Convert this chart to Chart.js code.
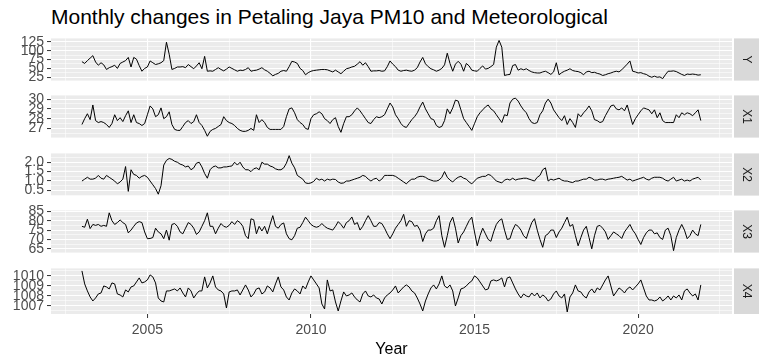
<!DOCTYPE html>
<html>
<head>
<meta charset="utf-8">
<script src="https://cdn.jsdelivr.net/npm/chart.js@4.4.1/dist/chart.umd.min.js"></script>
<style>
  body { margin: 0; background: #fff; width: 765px; height: 361px; overflow: hidden; position: relative;
         font-family: "Liberation Sans", Arial, sans-serif; }
  .panel { position: absolute; left: 0; width: 765px; }
  #title { position: absolute; left: 51px; top: 6px; font-size: 21px; line-height: 21px; color: #000; white-space: nowrap; }
</style>
</head>
<body>
<div id="title">Monthly changes in Petaling Jaya PM10 and Meteorological</div>
<div class="panel" style="top:27px;height:65px"><canvas id="cY"></canvas></div>
<div class="panel" style="top:84px;height:65px"><canvas id="cX1"></canvas></div>
<div class="panel" style="top:142px;height:65px"><canvas id="cX2"></canvas></div>
<div class="panel" style="top:199px;height:65px"><canvas id="cX3"></canvas></div>
<div class="panel" style="top:257px;height:104px"><canvas id="cX4"></canvas></div>
<script>
// monthly series, Jan 2003 .. Dec 2021 (12 values per row = one year)
const startYear = 2003;

const Y = [
  69,64,72,79,86,68,59,66,60,47,52,55,
  59,50,64,68,72,81,54,81,76,58,42,50,
  54,71,66,61,63,66,72,124,90,47,50,54,
  54,55,52,61,55,49,57,66,49,84,42,43,
  42,47,52,47,43,48,54,50,46,42,45,44,
  47,52,42,44,45,48,52,46,42,36,29,33,
  36,42,44,42,55,70,68,64,50,44,32,38,
  42,44,45,46,47,47,46,43,40,45,40,35,
  42,49,51,54,56,62,69,59,66,55,42,43,
  43,44,42,43,55,71,62,55,45,42,44,45,
  43,42,45,52,68,81,63,55,49,46,42,45,
  50,60,93,64,42,62,70,62,42,64,57,45,
  43,42,50,57,48,50,55,61,110,129,110,30,
  32,33,58,61,45,49,46,49,44,40,38,37,
  37,40,42,38,33,40,66,32,38,42,45,49,
  44,42,41,38,32,40,42,38,39,36,34,30,
  32,35,37,40,42,40,46,54,62,71,42,40,
  37,38,35,33,28,25,28,25,26,21,32,42,
  42,43,41,37,33,30,34,33,34,33,31,32
];

const X1 = [
  27.4,28.0,28.5,27.9,29.4,27.8,27.6,27.7,27.6,27.4,27.1,27.5,
  28.4,27.8,28.1,27.7,28.3,28.8,27.6,28.4,27.6,27.5,27.3,27.5,
  28.4,29.3,29.0,28.2,28.4,29.1,28.0,28.2,28.7,27.4,26.9,26.8,
  26.8,27.2,27.6,27.8,27.5,27.7,28.4,27.6,27.3,26.8,26.2,26.7,
  26.9,27.0,27.2,27.4,28.2,27.8,27.6,27.5,27.3,27.0,26.8,26.7,
  26.7,26.8,27.0,26.8,28.4,27.6,27.9,27.6,27.1,26.9,26.9,26.9,
  26.9,26.9,27.2,28.2,29.0,29.1,28.6,27.9,27.6,27.4,27.0,26.9,
  28.0,28.4,28.5,28.7,28.5,28.0,27.8,27.5,27.9,28.1,27.2,26.6,
  27.5,28.2,28.2,28.4,28.8,29.1,28.8,28.4,28.0,27.6,27.5,27.9,
  28.2,28.1,28.2,28.4,29.0,29.6,29.2,28.4,28.0,27.5,27.2,27.1,
  27.5,27.9,28.2,28.6,29.2,29.7,29.0,28.5,28.0,27.9,27.3,27.1,
  27.2,27.8,29.0,28.5,29.1,29.9,29.8,28.9,28.0,27.6,27.2,26.8,
  27.5,28.2,28.6,28.9,29.2,29.4,29.0,28.8,28.4,28.0,27.6,28.4,
  28.3,29.6,30.0,30.1,29.8,29.3,28.9,28.6,28.0,27.6,27.5,27.6,
  28.4,28.8,29.6,30.0,29.6,28.9,28.5,28.1,27.8,28.3,27.4,28.0,
  27.6,27.1,28.5,28.2,28.6,28.9,29.3,28.8,27.9,27.8,27.6,27.7,
  28.3,28.8,29.3,29.4,29.0,28.9,29.1,28.8,29.4,28.4,27.4,28.0,
  28.4,28.8,29.1,29.0,28.9,28.5,28.9,28.1,28.6,27.8,27.6,27.6,
  27.6,27.6,28.4,28.1,28.6,28.4,28.6,28.5,28.3,28.6,28.9,27.8
];

const X2 = [
  1.0,1.1,1.2,1.1,1.1,1.15,1.3,1.15,1.1,1.3,1.2,1.1,
  1.0,0.85,0.95,1.1,1.77,0.45,1.6,1.35,1.3,1.15,1.25,1.3,
  1.2,1.0,0.8,0.6,0.3,0.75,1.85,2.1,2.2,2.15,2.05,2.0,
  1.9,1.85,1.75,1.8,1.6,1.7,1.95,2.0,1.75,1.4,1.15,1.6,
  1.75,1.8,1.7,1.7,1.75,1.75,1.78,1.8,2.0,1.85,2.0,1.75,
  1.6,1.6,1.5,1.65,1.7,1.6,2.0,1.9,1.9,1.8,1.75,1.65,
  1.6,1.6,1.7,1.95,2.35,1.95,1.7,1.3,1.2,1.1,0.9,0.87,
  0.9,0.98,1.15,1.05,1.1,1.0,1.1,1.05,1.1,1.08,0.95,0.88,
  0.9,1.0,1.0,1.05,1.1,1.15,1.2,1.3,1.25,1.1,1.0,1.1,
  1.15,1.0,1.1,1.3,1.3,1.3,1.3,1.25,1.15,1.05,0.95,0.85,
  1.0,1.1,1.1,1.2,1.25,1.25,1.2,1.1,1.05,1.0,1.0,1.05,
  1.2,1.5,1.2,1.05,0.95,1.1,1.2,1.25,1.15,1.1,0.95,0.85,
  1.0,1.15,1.2,1.25,1.25,1.35,1.3,1.15,1.0,0.95,0.9,1.05,
  1.1,1.05,1.15,1.05,1.1,1.12,1.15,1.15,1.1,1.05,1.0,1.2,
  1.3,1.6,1.7,1.0,1.1,1.05,1.1,1.15,1.05,1.0,1.0,0.95,
  0.92,1.0,1.0,1.05,1.1,1.1,1.2,1.15,1.05,1.05,1.1,1.1,
  1.05,1.1,1.12,1.15,1.18,1.2,1.25,1.15,1.05,1.1,1.0,1.05,
  1.1,1.15,1.2,1.1,1.05,1.15,1.2,1.2,1.2,1.15,1.05,1.0,
  1.1,1.2,1.0,1.05,1.1,1.0,1.05,1.0,1.1,1.15,1.2,1.05
];

const X3 = [
  77,76.5,80.8,75.8,78,77.5,78,77,77.5,77,84.2,80,
  78,79,80.4,79,78,73.5,75,77,78.8,79.5,79,74,
  70.4,70.5,71,76,74,73,70.4,75,69.6,78,78.5,77,
  74,73,76,79,78,76,72.7,74,77,80,84.2,77,
  77,73,76,78.5,77,76.5,77.5,79.5,78,80,79,77,
  72,70.4,81,80.5,73,77,74.5,77,73,78,82.7,77,
  76,78,78.8,73,70.4,69.8,72,76,76.5,79,81.9,80,
  78,77,76.5,77,78.5,77,76,75.5,75,77,79.5,78,
  76,79,80,82,78,79,75,77,80,82.7,80,77,
  77,79,78.5,76,73,70.4,73,76,78,80,83.4,77,
  80,79.5,77,77.5,75,68.9,73,75,75,76,80,82.7,
  72,65.8,72,79,81.9,76,68.1,72,74,77,80,81.9,
  74,66.6,72,76,73,70,69,74,78,80,81,75,
  70,70.4,75,78,77,75,72,70.5,75,79,81.1,75,
  70,65.8,72,73,75,75,71,74,76,79,81.9,77,
  78,72,66.6,71,75,77,71,65,72,77,77.5,76,
  74,70,72,74,73,72,70.5,74,76,78,75,73,
  70,67.3,71,73.5,75,75,73,73.5,71,70,75,76,
  72,64,71,75,78,75,70.4,72,75,73,72,78
];

const X4 = [
  1010.5,1009.2,1008.5,1007.9,1007.5,1007.8,1008.2,1008.3,1009.0,1008.9,1008.7,1009.3,
  1009.2,1008.2,1008.1,1007.9,1008.6,1008.4,1008.9,1009.0,1009.4,1009.8,1009.3,1009.4,
  1009.6,1010.1,1009.9,1009.3,1007.8,1007.5,1007.4,1008.5,1008.5,1008.6,1008.7,1008.5,
  1008.8,1008.3,1007.9,1008.8,1008.5,1007.8,1008.2,1008.5,1008.5,1009.9,1008.8,1009.3,
  1010.0,1008.9,1008.6,1008.5,1008.2,1006.8,1008.4,1008.5,1008.5,1008.6,1008.1,1008.6,
  1009.1,1008.6,1007.9,1008.2,1008.7,1008.8,1008.2,1008.4,1009.0,1008.8,1008.4,1009.2,
  1009.9,1008.9,1008.6,1007.9,1007.6,1008.3,1008.7,1008.5,1008.2,1009.0,1008.7,1009.4,
  1010.0,1009.6,1009.2,1008.8,1007.2,1006.7,1009.6,1008.5,1008.6,1007.4,1006.5,1007.5,
  1008.4,1008.0,1008.1,1008.3,1007.9,1007.6,1007.4,1008.2,1008.5,1008.0,1007.9,1008.1,
  1007.8,1007.7,1007.2,1007.8,1008.1,1008.3,1008.6,1009.0,1008.3,1008.6,1008.9,1009.1,
  1008.9,1008.5,1008.3,1007.8,1007.2,1006.5,1007.5,1008.2,1008.8,1009.1,1008.7,1009.2,
  1010.0,1009.0,1008.8,1009.1,1008.5,1007.0,1007.8,1008.7,1008.8,1009.0,1009.3,1009.5,
  1010.0,1009.8,1009.4,1009.0,1008.6,1008.7,1009.5,1009.6,1009.5,1009.6,1009.8,1008.9,
  1009.8,1009.9,1009.3,1008.7,1008.2,1007.8,1008.2,1008.0,1007.9,1008.3,1008.0,1008.3,
  1007.8,1008.1,1007.9,1007.5,1007.7,1008.2,1008.5,1008.0,1007.8,1008.2,1006.4,1007.9,
  1008.3,1009.1,1008.5,1008.4,1008.0,1007.8,1008.4,1008.7,1008.3,1008.8,1008.6,1009.1,
  1009.6,1010.0,1009.0,1008.0,1008.4,1008.8,1008.6,1008.3,1008.7,1008.9,1008.6,1008.9,
  1009.2,1009.6,1008.8,1008.0,1007.6,1007.6,1007.5,1007.6,1007.9,1007.5,1007.7,1008.0,
  1007.6,1008.0,1007.8,1008.1,1007.6,1008.5,1008.7,1008.3,1008.0,1008.2,1007.6,1009.1
];

// tick labels (major) per panel, minor grid lines sit halfway between
const yearTicks = [2005, 2010, 2015, 2020];
const yearMinor = [2002.5, 2007.5, 2012.5, 2017.5, 2022.5];
const ticksY = [25, 50, 75, 100, 125];
const ticksX1 = [27, 28, 29, 30];
const ticksX2 = [0.5, 1.0, 1.5, 2.0];
const ticksX3 = [65, 70, 75, 80, 85];
const ticksX4 = [1007, 1008, 1009, 1010];

const months = Y.map((v, i) => startYear + i / 12);
const FONT = '"Liberation Sans", Arial, sans-serif';

const panelBg = {
  id: 'panelBg',
  beforeDraw(chart) {
    const { ctx, chartArea: a } = chart;
    ctx.save();
    ctx.fillStyle = '#EBEBEB';
    ctx.fillRect(a.left, a.top, a.right - a.left, a.bottom - a.top);
    ctx.restore();
  }
};

const strip = {
  id: 'strip',
  afterDraw(chart, args, opts) {
    const { ctx, chartArea: a } = chart;
    ctx.save();
    ctx.fillStyle = '#D9D9D9';
    ctx.fillRect(734, a.top, 25, a.bottom - a.top);
    ctx.translate(746.5, (a.top + a.bottom) / 2);
    ctx.rotate(Math.PI / 2);
    ctx.fillStyle = '#1A1A1A';
    ctx.font = '12px ' + FONT;
    ctx.textAlign = 'center';
    ctx.textBaseline = 'middle';
    ctx.fillText(opts.text, 0, 0);
    ctx.restore();
  }
};

function makePanel(id, label, vals, yMin, yMax, major, minor, dec, bottom) {
  const isMajorX = v => yearTicks.includes(v);
  const isMajorY = v => major.includes(v);
  new Chart(document.getElementById(id), {
    type: 'line',
    data: {
      datasets: [{
        data: months.map((t, i) => ({ x: t, y: vals[i] })),
        borderColor: '#000000',
        borderWidth: 1,
        pointRadius: 0,
        tension: 0,
        fill: false
      }]
    },
    options: {
      responsive: true,
      maintainAspectRatio: false,
      animation: false,
      events: [],
      layout: { padding: { left: 0, right: 33, top: 8, bottom: bottom ? 0 : 8 } },
      plugins: { legend: { display: false }, tooltip: { enabled: false }, strip: { text: label } },
      scales: {
        x: {
          type: 'linear',
          min: 2002.054,
          max: 2022.87,
          afterBuildTicks: s => { s.ticks = yearMinor.concat(yearTicks).sort((a, b) => a - b).map(v => ({ value: v })); },
          afterFit: s => { s.height = bottom ? 47 : 0; },
          border: { display: false },
          grid: {
            color: '#FFFFFF',
            lineWidth: c => isMajorX(c.tick.value) ? 1.1 : 0.55,
            drawTicks: bottom,
            tickLength: 4,
            tickWidth: 1,
            tickColor: c => isMajorX(c.tick.value) ? '#333333' : 'rgba(0,0,0,0)'
          },
          ticks: {
            display: bottom,
            autoSkip: false,
            maxRotation: 0,
            padding: 4,
            color: '#4D4D4D',
            font: { family: FONT, size: 14 },
            callback: v => isMajorX(v) ? String(v) : ''
          },
          title: {
            display: bottom,
            text: 'Year',
            color: '#000000',
            font: { family: FONT, size: 16 },
            padding: { top: 0, bottom: 2 }
          }
        },
        y: {
          min: yMin,
          max: yMax,
          afterBuildTicks: s => { s.ticks = major.concat(minor).sort((a, b) => a - b).map(v => ({ value: v })); },
          afterFit: s => { s.width = 51; },
          border: { display: false },
          grid: {
            color: '#FFFFFF',
            lineWidth: c => isMajorY(c.tick.value) ? 1.1 : 0.55,
            tickLength: 4,
            tickWidth: 1,
            tickColor: c => isMajorY(c.tick.value) ? '#333333' : 'rgba(0,0,0,0)'
          },
          ticks: {
            autoSkip: false,
            padding: 3,
            color: '#4D4D4D',
            font: { family: FONT, size: 14 },
            callback: v => isMajorY(v) ? v.toFixed(dec) : ''
          }
        }
      }
    },
    plugins: [panelBg, strip]
  });
}

makePanel('cY', 'Y', Y, 15.5, 134.8, ticksY, [37.5, 62.5, 87.5, 112.5], 0, false);
makePanel('cX1', 'X1', X1, 26.06, 30.38, ticksX1, [26.5, 27.5, 28.5, 29.5], 0, false);
makePanel('cX2', 'X2', X2, 0.225, 2.47, ticksX2, [0.25, 0.75, 1.25, 1.75, 2.25], 1, false);
makePanel('cX3', 'X3', X3, 62.97, 85.5, ticksX3, [67.5, 72.5, 77.5, 82.5], 0, false);
makePanel('cX4', 'X4', X4, 1006.2, 1010.75, ticksX4, [1006.5, 1007.5, 1008.5, 1009.5, 1010.5], 0, true);
</script>
</body>
</html>
